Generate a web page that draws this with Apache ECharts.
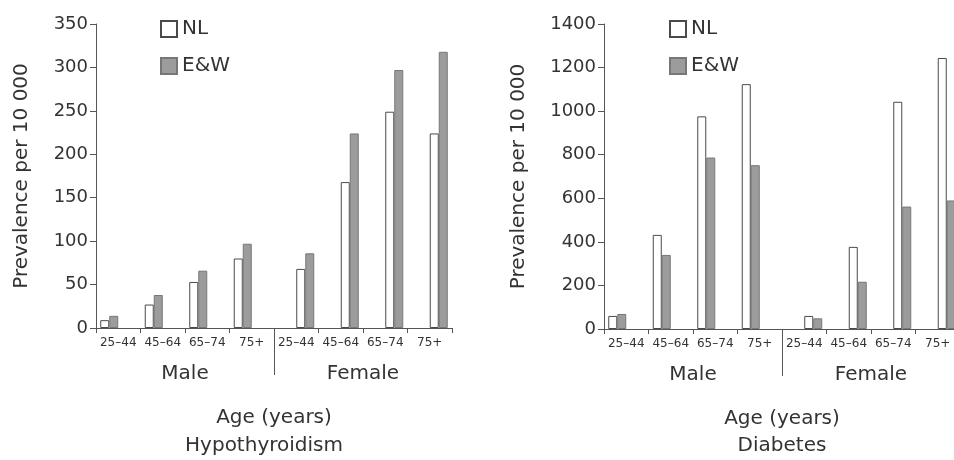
<!DOCTYPE html>
<html>
<head>
<meta charset="utf-8">
<script src="https://cdn.jsdelivr.net/npm/echarts@6/dist/echarts.min.js"></script>
<style>
  html, body { margin: 0; padding: 0; background: #fff; }
  #chart { width: 954px; height: 460px; }
</style>
</head>
<body>
<div id="chart"></div>
<script>
// age groups, repeated for male then female
const ageGroups = ['25–44', '45–64', '65–74', '75+', '25–44', '45–64', '65–74', '75+'];
const sexGroups = ['Male', 'Female'];

// hypothyroidism, prevalence per 10 000
const hypoNL = [9, 27, 53, 80, 68, 168, 249, 224];
const hypoEW = [14, 38, 66, 97, 86, 224, 297, 318];

// diabetes, prevalence per 10 000
const diabNL = [60, 432, 976, 1124, 60, 377, 1043, 1244];
const diabEW = [69, 340, 787, 752, 49, 217, 562, 590];

const font = 'DejaVu Sans';
const textColor = '#333';
const lineColor = '#555';

const nlStyle = { color: '#ffffff', borderColor: '#4a4a4a', borderWidth: 1 };
const ewStyle = { color: '#9c9c9c', borderColor: '#777777', borderWidth: 1 };

// male bars sit in the left half of a group, female bars in the right half
function maleOnly(arr) {
  return arr.map((v, i) => (i < 4 ? v : null));
}
function femaleOnly(arr) {
  return arr.map((v, i) => (i >= 4 ? v : null));
}

function makeSeries(gridIdx, nl, ew) {
  const base = {
    type: 'bar',
    xAxisIndex: gridIdx * 2,
    yAxisIndex: gridIdx,
    barWidth: 9,
    barGap: '0%',
    silent: true
  };
  return [
    Object.assign({}, base, { name: 'NL', data: maleOnly(nl), itemStyle: nlStyle }),
    Object.assign({}, base, { name: 'E&W', data: maleOnly(ew), itemStyle: ewStyle }),
    Object.assign({}, base, { name: 'NL', data: femaleOnly(nl), itemStyle: nlStyle }),
    Object.assign({}, base, { name: 'E&W', data: femaleOnly(ew), itemStyle: ewStyle })
  ];
}

function makeXAxes(gridIdx) {
  return [
    {
      type: 'category',
      gridIndex: gridIdx,
      position: 'bottom',
      data: ageGroups,
      axisLine: { lineStyle: { color: lineColor, width: 1 } },
      axisTick: { show: true, interval: 0, length: 5, lineStyle: { color: lineColor } },
      axisLabel: { interval: 0, fontSize: 12, margin: 9, color: textColor, fontFamily: font }
    },
    {
      type: 'value',
      gridIndex: gridIdx,
      position: 'bottom',
      min: 0,
      max: 2,
      axisLine: { show: false },
      splitLine: { show: false },
      axisTick: { show: true, customValues: [1], length: 47, lineStyle: { color: lineColor } },
      axisLabel: {
        customValues: [0.5, 1.5],
        formatter: (v) => sexGroups[v < 1 ? 0 : 1],
        fontSize: 20,
        margin: 36,
        color: textColor,
        fontFamily: font
      },
      name: 'Age (years)',
      nameLocation: 'middle',
      nameGap: 80,
      nameTextStyle: { fontSize: 20, color: textColor, fontFamily: font }
    }
  ];
}

function makeYAxis(gridIdx, max, interval, nameGap) {
  return {
    type: 'value',
    gridIndex: gridIdx,
    min: 0,
    max: max,
    interval: interval,
    name: 'Prevalence per 10 000',
    nameLocation: 'middle',
    nameGap: nameGap,
    nameTextStyle: { fontSize: 20, color: textColor, fontFamily: font },
    axisLine: { show: true, lineStyle: { color: lineColor, width: 1 } },
    axisTick: { show: true, length: 6, lineStyle: { color: lineColor } },
    splitLine: { show: false },
    axisLabel: {
      fontSize: 18,
      margin: 8,
      color: textColor,
      fontFamily: font,
      formatter: (v) => String(v)
    }
  };
}

function makeLegend(left) {
  return {
    data: ['NL', 'E&W'],
    orient: 'vertical',
    left: left,
    top: 19,
    itemWidth: 16,
    itemHeight: 16,
    itemGap: 17,
    icon: 'rect',
    selectedMode: false,
    padding: 0,
    textStyle: { fontSize: 20, color: textColor, fontFamily: font }
  };
}

const options = {
  animation: false,
  backgroundColor: '#fff',
  textStyle: { fontFamily: font },
  title: [
    {
      text: 'Hypothyroidism',
      left: 264,
      top: 436,
      textAlign: 'center',
      padding: 0,
      textStyle: { fontSize: 20, fontWeight: 'normal', color: textColor, fontFamily: font }
    },
    {
      text: 'Diabetes',
      left: 782,
      top: 436,
      textAlign: 'center',
      padding: 0,
      textStyle: { fontSize: 20, fontWeight: 'normal', color: textColor, fontFamily: font }
    }
  ],
  legend: [makeLegend(160), makeLegend(669)],
  grid: [
    { left: 96, right: 502, top: 24, bottom: 132, outerBoundsMode: 'none' },
    { left: 604, right: -6, top: 24, bottom: 131, outerBoundsMode: 'none' }
  ],
  xAxis: makeXAxes(0).concat(makeXAxes(1)),
  yAxis: [makeYAxis(0, 350, 50, 64), makeYAxis(1, 1400, 200, 75)],
  series: makeSeries(0, hypoNL, hypoEW).concat(makeSeries(1, diabNL, diabEW))
};

const chart = echarts.init(document.getElementById('chart'));
chart.setOption(options);
window.addEventListener('resize', () => chart.resize());
</script>
</body>
</html>
